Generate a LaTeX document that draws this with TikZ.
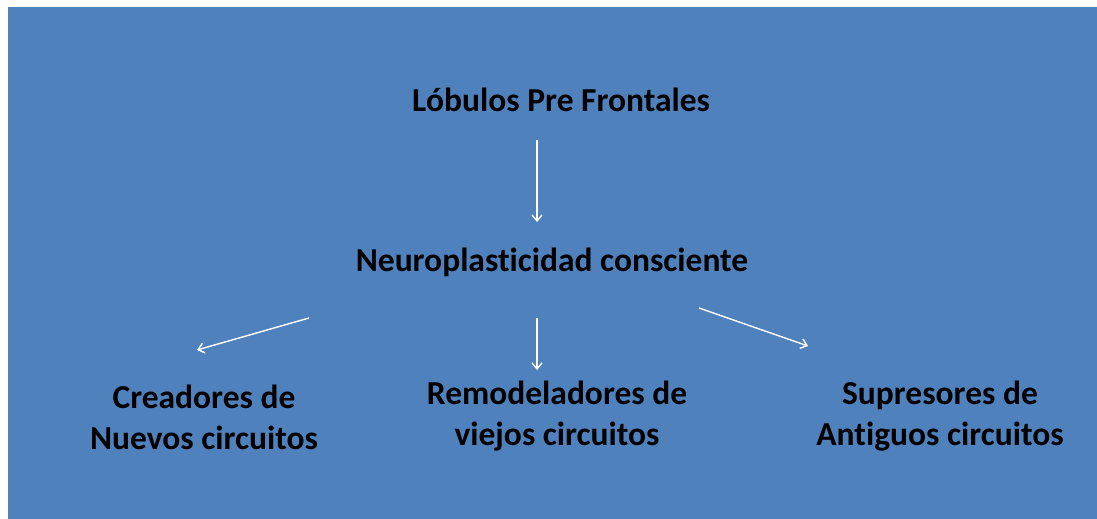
\documentclass[tikz,border=0pt]{standalone}
\usepackage{fontspec}
\setmainfont{Carlito}[Ligatures=NoCommon]
\usepackage{tikz}
\usetikzlibrary{arrows.meta}
\definecolor{fondo}{HTML}{4F81BD}
\tikzset{x=1pt, y=-1pt,
  etiqueta/.style={font=\bfseries\fontsize{33.5}{41}\selectfont, align=center, text=black},
  flecha/.style={draw=white, line width=1.4pt, -{Straight Barb[length=6pt, width=10pt]}}}

\begin{document}
\begin{tikzpicture}
   \useasboundingbox[fill=white] (0,0) rectangle (1097,519);
   \fill[fondo] (8,7) rectangle (1097,519);
   \node[etiqueta](lob) at (561,100) {Lóbulos Pre Frontales};
   \node[etiqueta](neuro) at (552,262) {Neuroplasticidad consciente};
   \node[etiqueta](crea) at (204,417) {Creadores de\\Nuevos circuitos};
   \node[etiqueta](remo) at (557,416) {Remodeladores de\\viejos circuitos};
   \node[etiqueta](supr) at (940,416) {Supresores de\\Antiguos circuitos};
   \coordinate(a1) at (537,140);
   \coordinate(a2) at (537,222);
   \coordinate(b1) at (309,318);
   \coordinate(b2) at (197,350);
   \coordinate(c1) at (537,318);
   \coordinate(c2) at (537,370);
   \coordinate(d1) at (699,308);
   \coordinate(d2) at (808,346);
   \draw[flecha] (a1) -- (a2);
   \draw[flecha] (b1) -- (b2);
   \draw[flecha] (c1) -- (c2);
   \draw[flecha] (d1) -- (d2);
\end{tikzpicture}
\end{document}
